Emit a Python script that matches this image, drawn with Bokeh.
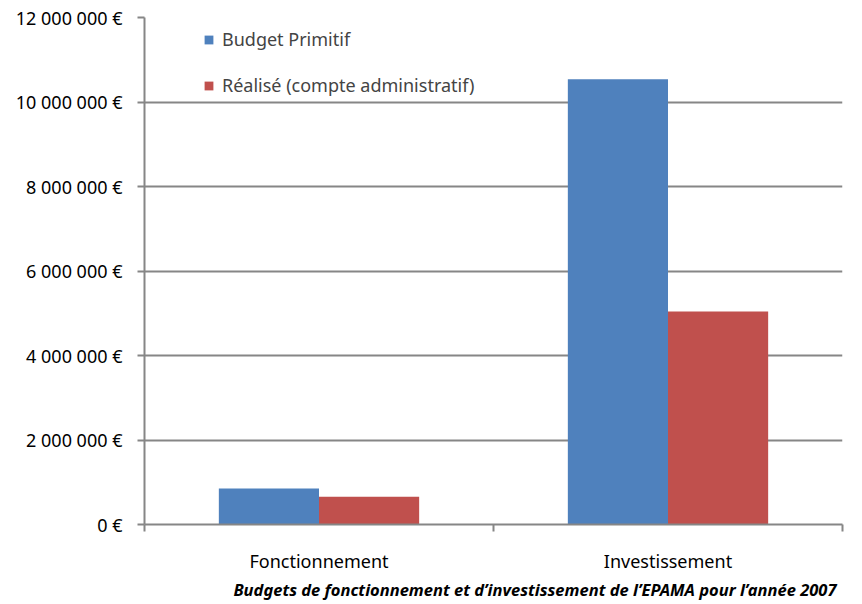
from bokeh.plotting import figure
from bokeh.models import Range1d, FixedTicker, Legend, LegendItem, Title, ColumnDataSource
from bokeh.embed import file_html
from bokeh.resources import INLINE
from bokeh.transform import dodge

categories = ["Fonctionnement", "Investissement"]
budget_primitif = [850000, 10540000]
realise = [655000, 5040000]
y_ticks = [0, 2000000, 4000000, 6000000, 8000000, 10000000, 12000000]
y_labels = ["0 €", "2 000 000 €", "4 000 000 €", "6 000 000 €", "8 000 000 €", "10 000 000 €", "12 000 000 €"]
series_names = ["Budget Primitif", "Réalisé (compte administratif)"]
title_text = "Budgets de fonctionnement et d’investissement de l’EPAMA pour l’année 2007"

FONT = "Noto Sans"
GRAY = "#868686"
BLUE = "#4F81BD"
RED = "#C0504D"

centers = [i + 0.5 for i in range(len(categories))]
bounds = [float(i) for i in range(len(categories) + 1)]

src = ColumnDataSource(dict(x=centers, bp=budget_primitif, re=realise))

p = figure(width=846, height=600, output_backend="svg", toolbar_location=None,
           x_range=Range1d(0, len(categories)), y_range=Range1d(0, 12000000),
           min_border_left=144, min_border_right=4, min_border_top=17, min_border_bottom=75)
p.outline_line_color = None
p.background_fill_color = "white"

r1 = p.vbar(x=dodge("x", -0.1435, range=p.x_range), top="bp", width=0.287, source=src,
            fill_color=BLUE, line_color=None)
r2 = p.vbar(x=dodge("x", 0.1435, range=p.x_range), top="re", width=0.287, source=src,
            fill_color=RED, line_color=None)

# grid
p.xgrid.visible = False
p.ygrid.ticker = FixedTicker(ticks=y_ticks)
p.ygrid.grid_line_color = GRAY
p.ygrid.grid_line_width = 2
p.ygrid.level = "underlay"

# y axis
p.yaxis.ticker = FixedTicker(ticks=y_ticks)
p.yaxis.major_label_overrides = {t: l for t, l in zip(y_ticks, y_labels)}
p.yaxis.axis_line_color = GRAY
p.yaxis.axis_line_width = 2
p.yaxis.major_tick_line_color = GRAY
p.yaxis.major_tick_line_width = 2
p.yaxis.major_tick_out = 7
p.yaxis.major_tick_in = 0
p.yaxis.minor_tick_line_color = None
p.yaxis.major_label_standoff = 15
p.yaxis.major_label_text_font = FONT
p.yaxis.major_label_text_font_size = "18px"
p.yaxis.major_label_text_color = "black"

# x axis
p.xaxis.ticker = FixedTicker(ticks=centers, minor_ticks=bounds)
p.xaxis.major_label_overrides = {c: n for c, n in zip(centers, categories)}
p.xaxis.axis_line_color = GRAY
p.xaxis.axis_line_width = 2
p.xaxis.major_tick_line_color = None
p.xaxis.major_tick_out = 0
p.xaxis.major_tick_in = 0
p.xaxis.minor_tick_line_color = GRAY
p.xaxis.minor_tick_line_width = 2
p.xaxis.minor_tick_out = 7
p.xaxis.minor_tick_in = 0
p.xaxis.major_label_standoff = 17
p.xaxis.major_label_text_font = FONT
p.xaxis.major_label_text_font_size = "18px"
p.xaxis.major_label_text_color = "black"

legend = Legend(items=[LegendItem(label=series_names[0], renderers=[r1]),
                       LegendItem(label=series_names[1], renderers=[r2])],
                location=(59, 427), margin=0, padding=0, spacing=22,
                glyph_width=11, glyph_height=11, label_height=11, label_standoff=8,
                label_text_font=FONT, label_text_font_size="18px",
                border_line_color=None, background_fill_alpha=0)
p.add_layout(legend, "center")

t = Title(text=title_text, align="right", text_font=FONT, text_font_size="16.5px",
          text_font_style="bold italic", text_color="black", offset=6, standoff=0)
p.add_layout(t, "below")

open("out.html", "w").write(file_html(p, INLINE))
